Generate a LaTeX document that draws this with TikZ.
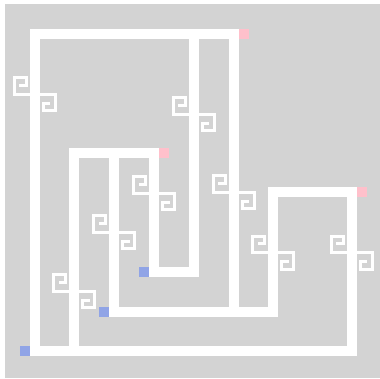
\documentclass[tikz,border=0pt]{standalone}
\definecolor{bggray}{RGB}{211,211,211}
\definecolor{srcblue}{RGB}{144,164,230}
\definecolor{snkpink}{RGB}{255,192,203}
\begin{document}
\begin{tikzpicture}[x=1pt,y=-1pt,
  wire/.style={white, line width=10pt, line join=miter},
  orn/.style={white, line width=3pt, line join=miter},
  srcbox/.style={fill=srcblue, draw=none, minimum size=10pt, inner sep=0pt, outer sep=0pt},
  snkbox/.style={fill=snkpink, draw=none, minimum size=10pt, inner sep=0pt, outer sep=0pt},
  ornament/.pic={
    \draw[orn] (0,0) -- (-20.5,0) -- (-20.5,-16.5) -- (-8.5,-16.5) -- (-8.5,-9) -- (-15.5,-9);
    \draw[orn] (0,0) -- (20.5,0) -- (20.5,16.5) -- (8.5,16.5) -- (8.5,9) -- (15.5,9);
  }]
\useasboundingbox (0,0) rectangle (380,378);
\fill[bggray] (5,4) rectangle (380,378);
% sources and sinks
\node[srcbox] (b1) at (25,351) {};
\node[srcbox] (b2) at (104,312) {};
\node[srcbox] (b3) at (144,272) {};
\node[snkbox] (p1) at (243.5,34) {};
\node[snkbox] (p2) at (164,153) {};
\node[snkbox] (p3) at (362,191.5) {};
% vertical channels
\coordinate (v1) at (34.5,0);
\coordinate (v2) at (74,0);
\coordinate (v3) at (114,0);
\coordinate (v4) at (154,0);
\coordinate (v5) at (193.5,0);
\coordinate (v6) at (233.5,0);
\coordinate (v7) at (273,0);
\coordinate (v8) at (351.5,0);
% wires
\draw[wire] (b1.east) -| (v1 |- p1) -- (p1.west);
\draw[wire] (b1.east) -| (v2 |- p2) -- (p2.west);
\draw[wire] (b1.east) -| (v8 |- p3) -- (p3.west);
\draw[wire] (b2.east) -| (v3 |- p2) -- (p2.west);
\draw[wire] (b2.east) -| (v6 |- p1) -- (p1.west);
\draw[wire] (b2.east) -| (v7 |- p3) -- (p3.west);
\draw[wire] (b3.east) -| (v4 |- p2) -- (p2.west);
\draw[wire] (b3.east) -| (v5 |- p1) -- (p1.west);
% ornaments
\pic at (34.5,94) {ornament};
\pic at (193.5,114) {ornament};
\pic at (154,193) {ornament};
\pic at (233.5,192) {ornament};
\pic at (114,232) {ornament};
\pic at (74,291) {ornament};
\pic at (273,252.5) {ornament};
\pic at (351.5,252.5) {ornament};
% redraw boxes on top
\fill[srcblue] (b1.south west) rectangle (b1.north east);
\fill[srcblue] (b2.south west) rectangle (b2.north east);
\fill[srcblue] (b3.south west) rectangle (b3.north east);
\fill[snkpink] (p1.south west) rectangle (p1.north east);
\fill[snkpink] (p2.south west) rectangle (p2.north east);
\fill[snkpink] (p3.south west) rectangle (p3.north east);
\end{tikzpicture}
\end{document}
